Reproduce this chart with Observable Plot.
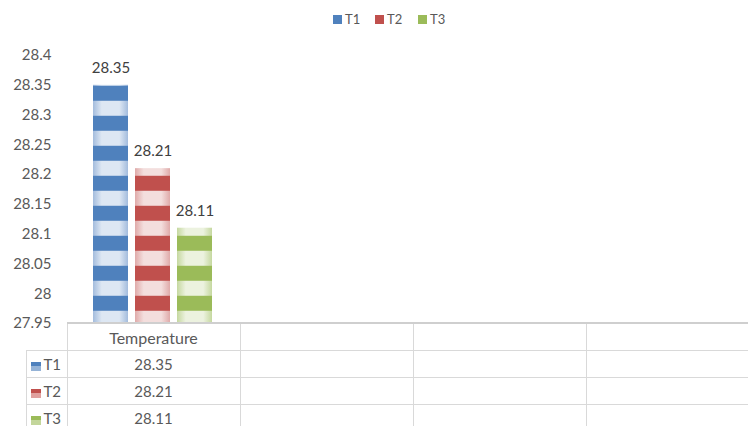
<!DOCTYPE html>
<html>
<head>
<meta charset="utf-8">
<script src="https://cdn.jsdelivr.net/npm/d3@7"></script>
<script src="https://cdn.jsdelivr.net/npm/@observablehq/plot@0.6"></script>
<style>
  html, body { margin: 0; padding: 0; background: #fff; }
  body { width: 748px; height: 426px; overflow: hidden; position: relative; font-family: Lato, "Open Sans", sans-serif; }
  #legend { position: absolute; top: 0; left: 0; width: 748px; height: 38px; }
  #legend .item { position: absolute; top: 12px; display: flex; align-items: center; font-size: 13px; color: #595959; line-height: 14px; }
  #legend .sw { width: 9px; height: 9px; margin-right: 3px; }
  #chart { position: absolute; top: 38px; left: 0; }
  #chart svg { overflow: visible; }
  table { position: absolute; top: 322px; left: 0; width: 759px; border-collapse: collapse; table-layout: fixed; font-size: 15px; color: #595959; }
  td { padding: 0; height: 26px; text-align: center; white-space: nowrap; }
  td.key { text-align: left; padding-left: 4px; }
  td.hd { font-size: 16px; }
  .ksw { display: inline-block; width: 10px; height: 9px; margin-right: 3px; vertical-align: -1px; }
</style>
</head>
<body>
<div id="legend"></div>
<div id="chart"></div>
<script>
// ---- data ----
const categories = ["Temperature", "", "", ""];
const series = ["T1", "T2", "T3"];
const values = [28.35, 28.21, 28.11];
const yDomain = [27.95, 28.4];
const yTicks = [27.95, 28, 28.05, 28.1, 28.15, 28.2, 28.25, 28.3, 28.35, 28.4];
const solidColors = ["#4f81bd", "#c0504d", "#9bbb59"];
const edgeColors = ["#a3bcdd", "#dfaaa9", "#c5d89f"];
const centerColors = ["#dde7f3", "#f3dedd", "#ecf2df"];
const keyLightColors = ["#95b3d7", "#e0a09e", "#c3d69b"];

const rows = series.map((s, i) => ({
  series: s,
  value: values[i],
  grad: `url(#grad-${s})`,
  stripe: `url(#stripe-${s})`
}));

// ---- legend ----
const legendX = [333, 375, 418];
const legend = d3.select("#legend");
series.forEach((s, i) => {
  const it = legend.append("div").attr("class", "item").style("left", legendX[i] + "px");
  it.append("div").attr("class", "sw").style("background", solidColors[i]);
  it.append("span").text(s);
});

// ---- chart ----
const plot = Plot.plot({
  width: 748,
  height: 292,
  marginTop: 17,
  marginBottom: 7,
  marginLeft: 67,
  marginRight: 0,
  style: { fontFamily: "Lato, 'Open Sans', sans-serif", fontSize: "15px", color: "#595959", background: "transparent", overflow: "visible" },
  x: { domain: series, range: [90, 216], paddingInner: 0.16, paddingOuter: 0.08, axis: null },
  y: { domain: yDomain, ticks: yTicks, tickFormat: d => String(d), tickSize: 0, tickPadding: 16, label: null },
  color: { type: "identity" },
  marks: [
    Plot.barY(rows, { x: "series", y1: () => yDomain[0], y2: "value", fill: "grad" }),
    Plot.barY(rows, { x: "series", y1: () => yDomain[0], y2: "value", fill: "stripe" }),
    Plot.text(rows, { x: "series", y: "value", text: d => d.value.toFixed(2), dy: -17, fill: "#404040", fontSize: 15 })
  ]
});

const svg = d3.select(plot);
const yScale = plot.scale("y");
const stripeStart = yScale.apply(d3.max(values)) + 1;
const defs = svg.insert("defs", ":first-child");
series.forEach((s, i) => {
  const g = defs.append("linearGradient").attr("id", `grad-${s}`).attr("x1", 0).attr("x2", 1).attr("y1", 0).attr("y2", 0);
  [[0, edgeColors[i]], [0.25, centerColors[i]], [0.5, centerColors[i]], [0.75, centerColors[i]], [1, edgeColors[i]]].forEach(([o, c]) =>
    g.append("stop").attr("offset", o).attr("stop-color", c));
  const p = defs.append("pattern").attr("id", `stripe-${s}`)
    .attr("patternUnits", "userSpaceOnUse").attr("width", 40).attr("height", 30)
    .attr("patternTransform", `translate(0,${stripeStart})`);
  p.append("rect").attr("width", 40).attr("height", 15).attr("fill", solidColors[i]);
});
document.getElementById("chart").appendChild(plot);

// ---- data table ----
const colWidths = [26, 41, 173, 173, 173, 173];
const grid = "1px solid #d9d9d9";
const table = d3.select("body").append("table");
const cg = table.append("colgroup");
colWidths.forEach(w => cg.append("col").style("width", w + "px"));
const head = table.append("tr").style("height", "27px");
head.append("td");
head.append("td");
categories.forEach(c => head.append("td").attr("class", "hd").text(c)
  .style("border-top", "2px solid #cfcfcf").style("border-left", grid).style("border-bottom", grid));
rows.forEach((r, i) => {
  const tr = table.append("tr").style("height", i === 2 ? "26px" : "27px");
  tr.append("td");
  const k = tr.append("td").attr("class", "key").style("border-left", grid).style("border-top", grid).style("border-bottom", grid);
  k.append("span").attr("class", "ksw")
    .style("background", `linear-gradient(to bottom, ${solidColors[i]} 0 45%, ${keyLightColors[i]} 45% 100%)`);
  k.append("span").text(r.series);
  categories.forEach((c, j) => tr.append("td").style("border-left", grid).style("border-bottom", grid)
    .text(j === 0 ? r.value.toFixed(2) : ""));
});
</script>
</body>
</html>
